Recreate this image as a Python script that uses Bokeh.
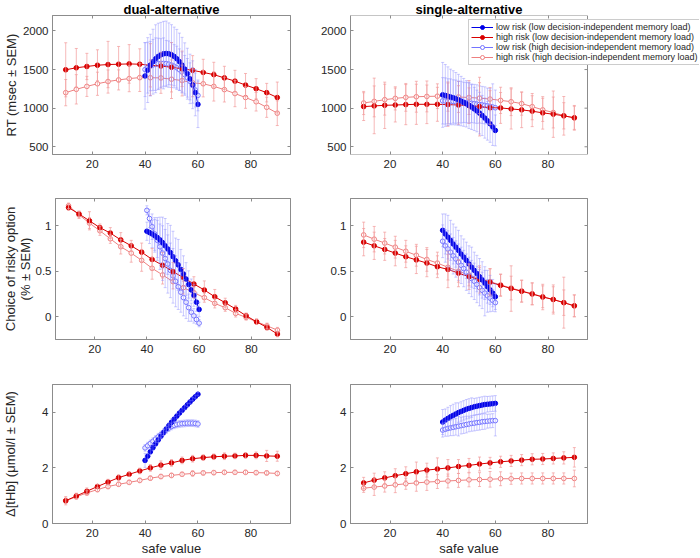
import math
from bokeh.plotting import figure
from bokeh.models import (ColumnDataSource, Whisker, TeeHead, Legend, LegendItem,
                          LinearAxis, FixedTicker, Range1d, Title)
from bokeh.layouts import column, row
from bokeh.embed import file_html
from bokeh.resources import INLINE

# ---------------- data ----------------
x_red = [10, 14, 18, 22, 26, 30, 34, 38, 42, 46, 50, 54, 58, 62, 66, 70, 74, 78, 82, 86, 90]
x_blue = [40, 41, 42, 43, 44, 45, 46, 47, 48, 49, 50, 51, 52, 53, 54, 55, 56, 57, 58, 59, 60]

series_labels = ["low risk (low decision-independent memory load)",
                 "high risk (low decision-independent memory load)",
                 "low risk (high decision-independent memory load)",
                 "high risk (high decision-independent memory load)"]
col_titles = ["dual-alternative", "single-alternative"]
row_labels = ["RT (msec \u00b1 SEM)", "Choice of risky option\n(% \u00b1 SEM)", "\u0394[tHb] (\u03bcmol/l \u00b1 SEM)"]
x_label = "safe value"
x_ticks = [20, 40, 60, 80]
rt_ticks = [500, 1000, 1500, 2000]
choice_ticks = [0, 0.5, 1]
thb_ticks = [0, 2, 4]

# RT, dual-alternative
rt_dual_bf = [1417, 1493, 1557, 1602, 1640, 1670, 1691, 1704, 1708, 1704, 1691, 1670, 1640, 1602, 1557, 1506, 1446, 1379, 1303, 1201, 1049]
rt_dual_bf_sem = [430, 420, 400, 420, 440, 430, 420, 420, 420, 400, 390, 380, 380, 370, 360, 340, 330, 320, 310, 300, 300]
rt_dual_rf = [1497, 1523, 1540, 1556, 1565, 1569, 1573, 1569, 1555, 1545, 1530, 1510, 1490, 1463, 1434, 1392, 1350, 1299, 1252, 1201, 1138]
rt_dual_rf_sem = [350, 250, 170, 200, 300, 230, 250, 200, 280, 180, 320, 230, 190, 170, 160, 150, 140, 150, 130, 120, 200]
rt_dual_bo = [1500, 1525, 1545, 1560, 1570, 1577, 1580, 1580, 1577, 1570, 1558, 1543, 1523, 1498, 1468, 1433, 1393, 1347, 1295, 1235, 1165]
rt_dual_bo_sem = [350, 330, 320, 330, 340, 330, 320, 330, 300, 300, 290, 280, 280, 270, 260, 250, 250, 240, 230, 220, 200]
rt_dual_ro = [1201, 1244, 1282, 1316, 1345, 1366, 1383, 1396, 1394, 1392, 1375, 1358, 1328, 1316, 1282, 1240, 1189, 1138, 1083, 1011, 935]
rt_dual_ro_sem = [170, 190, 130, 150, 150, 130, 170, 180, 230, 200, 250, 200, 180, 170, 190, 160, 170, 140, 120, 130, 160]

# RT, single-alternative
rt_single_bf = [1172, 1165, 1155, 1145, 1135, 1122, 1108, 1092, 1075, 1056, 1036, 1014, 990, 964, 936, 905, 872, 836, 798, 757, 712]
rt_single_bf_sem = [420, 400, 380, 360, 350, 340, 330, 320, 310, 300, 300, 290, 280, 270, 270, 260, 260, 250, 240, 240, 200]
rt_single_rf = [1020, 1029, 1037, 1041, 1046, 1050, 1050, 1050, 1046, 1041, 1033, 1020, 1007, 1003, 990, 978, 961, 939, 922, 901, 875]
rt_single_rf_sem = [180, 360, 300, 220, 260, 260, 250, 220, 280, 250, 230, 380, 220, 200, 260, 230, 200, 210, 300, 250, 160]
rt_single_bo = [1095, 1093, 1091, 1089, 1087, 1084, 1081, 1078, 1075, 1071, 1067, 1063, 1058, 1053, 1048, 1042, 1036, 1030, 1023, 1015, 1005]
rt_single_bo_sem = [300, 300, 290, 290, 280, 280, 270, 270, 260, 260, 260, 250, 250, 250, 240, 240, 240, 230, 230, 300, 230]
rt_single_ro = [1067, 1088, 1110, 1127, 1140, 1148, 1152, 1155, 1150, 1145, 1138, 1130, 1118, 1101, 1084, 1059, 1020, 978, 944, 901, 875]
rt_single_ro_sem = [150, 200, 200, 150, 180, 200, 200, 160, 190, 200, 220, 200, 150, 170, 180, 150, 170, 150, 200, 170, 150]

# Choice, dual-alternative
ch_dual_bf = [0.94, 0.925, 0.91, 0.89, 0.87, 0.845, 0.815, 0.78, 0.745, 0.705, 0.66, 0.615, 0.57, 0.52, 0.47, 0.415, 0.355, 0.295, 0.235, 0.16, 0.08]
ch_dual_bf_sem = [0.10, 0.12, 0.15, 0.18, 0.22, 0.25, 0.28, 0.30, 0.28, 0.30, 0.28, 0.25, 0.28, 0.22, 0.20, 0.18, 0.15, 0.12, 0.12, 0.10, 0.08]
ch_dual_rf = [1.20, 1.13, 1.055, 0.98, 0.92, 0.845, 0.78, 0.71, 0.63, 0.566, 0.496, 0.43, 0.36, 0.294, 0.22, 0.154, 0.085, 0.011, -0.055, -0.118, -0.19]
ch_dual_rf_sem = [0.03, 0.03, 0.10, 0.04, 0.06, 0.08, 0.06, 0.10, 0.12, 0.14, 0.10, 0.10, 0.08, 0.10, 0.08, 0.05, 0.04, 0.03, 0.03, 0.03, 0.03]
ch_dual_bo = [1.17, 1.08, 0.99, 0.91, 0.84, 0.77, 0.70, 0.64, 0.58, 0.51, 0.45, 0.39, 0.33, 0.27, 0.21, 0.16, 0.10, 0.05, 0.01, -0.03, -0.07]
ch_dual_bo_sem = [0.05, 0.10, 0.14, 0.18, 0.22, 0.25, 0.30, 0.32, 0.32, 0.30, 0.30, 0.28, 0.25, 0.22, 0.20, 0.18, 0.15, 0.10, 0.08, 0.05, 0.04]
ch_dual_ro = [1.22, 1.12, 1.03, 0.945, 0.857, 0.77, 0.70, 0.62, 0.533, 0.46, 0.386, 0.32, 0.265, 0.21, 0.147, 0.10, 0.037, -0.007, -0.055, -0.10, -0.147]
ch_dual_ro_sem = [0.03, 0.04, 0.06, 0.05, 0.05, 0.08, 0.10, 0.12, 0.12, 0.10, 0.08, 0.07, 0.06, 0.05, 0.05, 0.04, 0.04, 0.03, 0.03, 0.03, 0.03]

# Choice, single-alternative
ch_single_bf = [0.95, 0.91, 0.875, 0.84, 0.80, 0.765, 0.73, 0.69, 0.655, 0.62, 0.58, 0.545, 0.51, 0.475, 0.44, 0.405, 0.37, 0.33, 0.295, 0.26, 0.22]
ch_single_bf_sem = [0.18, 0.22, 0.24, 0.22, 0.22, 0.22, 0.22, 0.20, 0.20, 0.20, 0.20, 0.22, 0.20, 0.20, 0.20, 0.20, 0.18, 0.18, 0.16, 0.15, 0.14]
ch_single_rf = [0.82, 0.78, 0.74, 0.70, 0.66, 0.625, 0.59, 0.55, 0.52, 0.48, 0.44, 0.41, 0.38, 0.345, 0.31, 0.28, 0.25, 0.217, 0.19, 0.155, 0.12]
ch_single_rf_sem = [0.15, 0.15, 0.12, 0.14, 0.12, 0.15, 0.15, 0.12, 0.20, 0.15, 0.14, 0.15, 0.15, 0.12, 0.25, 0.12, 0.12, 0.14, 0.16, 0.28, 0.12]
ch_single_bo = [0.83, 0.78, 0.745, 0.71, 0.67, 0.635, 0.60, 0.565, 0.53, 0.49, 0.455, 0.42, 0.39, 0.355, 0.32, 0.29, 0.26, 0.23, 0.205, 0.18, 0.155]
ch_single_bo_sem = [0.18, 0.18, 0.20, 0.20, 0.20, 0.20, 0.20, 0.20, 0.20, 0.20, 0.20, 0.20, 0.20, 0.20, 0.20, 0.20, 0.25, 0.18, 0.15, 0.12, 0.10]
ch_single_ro = [0.90, 0.853, 0.81, 0.765, 0.72, 0.676, 0.63, 0.59, 0.544, 0.50, 0.46, 0.42, 0.386, 0.35, 0.316, 0.283, 0.254, 0.22, 0.19, 0.155, 0.12]
ch_single_ro_sem = [0.14, 0.14, 0.12, 0.12, 0.12, 0.12, 0.13, 0.12, 0.14, 0.12, 0.12, 0.12, 0.14, 0.12, 0.13, 0.12, 0.12, 0.12, 0.14, 0.14, 0.12]

# tHb, dual-alternative
thb_dual_bf = [2.27, 2.42, 2.58, 2.73, 2.87, 3.01, 3.14, 3.27, 3.40, 3.52, 3.64, 3.75, 3.86, 3.97, 4.07, 4.17, 4.27, 4.37, 4.47, 4.56, 4.65]
thb_dual_bf_sem = [0.25, 0.10, 0.10, 0.10, 0.10, 0.10, 0.10, 0.10, 0.10, 0.10, 0.12, 0.10, 0.10, 0.08, 0.08, 0.08, 0.06, 0.06, 0.06, 0.06, 0.06]
thb_dual_rf = [0.82, 0.99, 1.16, 1.33, 1.49, 1.65, 1.77, 1.89, 2.00, 2.10, 2.18, 2.27, 2.33, 2.37, 2.40, 2.42, 2.43, 2.45, 2.45, 2.43, 2.42]
thb_dual_rf_sem = [0.15, 0.10, 0.12, 0.08, 0.10, 0.10, 0.08, 0.10, 0.12, 0.15, 0.12, 0.12, 0.12, 0.10, 0.10, 0.12, 0.10, 0.10, 0.12, 0.20, 0.18]
thb_dual_bo = [2.72, 2.80, 2.88, 2.96, 3.04, 3.12, 3.20, 3.28, 3.36, 3.43, 3.49, 3.53, 3.56, 3.58, 3.59, 3.60, 3.61, 3.61, 3.61, 3.60, 3.58]
thb_dual_bo_sem = [0.12, 0.12, 0.12, 0.12, 0.12, 0.12, 0.12, 0.12, 0.12, 0.12, 0.12, 0.12, 0.12, 0.12, 0.12, 0.12, 0.12, 0.12, 0.12, 0.12, 0.12]
thb_dual_ro = [0.82, 0.96, 1.10, 1.22, 1.33, 1.41, 1.48, 1.55, 1.63, 1.69, 1.73, 1.77, 1.80, 1.82, 1.83, 1.84, 1.84, 1.84, 1.83, 1.82, 1.80]
thb_dual_ro_sem = [0.10, 0.08, 0.08, 0.08, 0.08, 0.08, 0.08, 0.08, 0.08, 0.08, 0.08, 0.08, 0.10, 0.08, 0.08, 0.08, 0.08, 0.08, 0.08, 0.08, 0.08]

# tHb, single-alternative
thb_single_bf = [3.65, 3.72, 3.78, 3.84, 3.89, 3.94, 3.99, 4.03, 4.07, 4.11, 4.14, 4.17, 4.20, 4.22, 4.24, 4.26, 4.28, 4.29, 4.30, 4.31, 4.32]
thb_single_bf_sem = [0.45, 0.40, 0.40, 0.40, 0.40, 0.40, 0.35, 0.35, 0.35, 0.35, 0.35, 0.35, 0.30, 0.30, 0.30, 0.30, 0.30, 0.28, 0.28, 0.28, 0.28]
thb_single_rf = [1.46, 1.56, 1.64, 1.72, 1.79, 1.86, 1.92, 1.96, 2.00, 2.05, 2.09, 2.14, 2.18, 2.22, 2.25, 2.28, 2.31, 2.32, 2.34, 2.36, 2.38]
thb_single_rf_sem = [0.20, 0.25, 0.22, 0.25, 0.25, 0.35, 0.25, 0.40, 0.30, 0.25, 0.25, 0.25, 0.20, 0.20, 0.20, 0.20, 0.20, 0.20, 0.20, 0.22, 0.35]
thb_single_bo = [3.36, 3.39, 3.42, 3.44, 3.46, 3.48, 3.50, 3.52, 3.54, 3.56, 3.58, 3.60, 3.61, 3.63, 3.64, 3.66, 3.67, 3.68, 3.69, 3.70, 3.70]
thb_single_bo_sem = [0.25, 0.25, 0.28, 0.28, 0.30, 0.30, 0.35, 0.30, 0.30, 0.30, 0.28, 0.28, 0.28, 0.28, 0.28, 0.28, 0.28, 0.25, 0.25, 0.25, 0.55]
thb_single_ro = [1.27, 1.31, 1.35, 1.39, 1.43, 1.46, 1.49, 1.51, 1.53, 1.55, 1.57, 1.58, 1.59, 1.61, 1.61, 1.62, 1.62, 1.62, 1.62, 1.62, 1.62]
thb_single_ro_sem = [0.15, 0.30, 0.22, 0.28, 0.20, 0.30, 0.30, 0.25, 0.25, 0.25, 0.25, 0.25, 0.28, 0.25, 0.20, 0.20, 0.20, 0.20, 0.20, 0.20, 0.30]

# ---------------- style ----------------
FONT = "Liberation Sans"
TXT = "#262626"
AXC = "#8c8c8c"
BLUE = "#0000e6"
BLUE_LIGHT = "#7474ff"
BLUE_ERR = "#8c8cff"
RED = "#d80000"
RED_LIGHT = "#ee8080"
RED_ERR = "#f29a9a"

X_RANGE = (5, 95)
COLS = [dict(width=300, left=52, right=10), dict(width=399, left=50, right=112)]
ROWS = [dict(height=176, top=13, bottom=22, yr=(400, 2200), ticks=rt_ticks, lab_standoff=1),
        dict(height=185, top=22, bottom=22, yr=(-0.25, 1.3), ticks=choice_ticks, lab_standoff=0),
        dict(height=197, top=23, bottom=34, yr=(0, 5), ticks=thb_ticks, lab_standoff=21)]


def style_axis(ax, ticks, show_labels=True, line=True):
    ax.ticker = FixedTicker(ticks=ticks)
    ax.axis_line_color = AXC if line else None
    ax.major_tick_line_color = AXC
    ax.major_tick_in = 3
    ax.major_tick_out = 0
    ax.minor_tick_line_color = None
    ax.major_label_text_font = FONT
    ax.major_label_text_color = TXT
    if not show_labels:
        ax.major_label_text_font_size = "0px"
        ax.major_label_text_color = None
        ax.major_label_standoff = 0
    else:
        ax.major_label_text_font_size = "11.5px"


def style_label(ax, text, standoff):
    ax.axis_label = text
    ax.axis_label_standoff = standoff
    ax.axis_label_text_font = FONT
    ax.axis_label_text_font_size = "13px"
    ax.axis_label_text_font_style = "normal"
    ax.axis_label_text_color = TXT
    ax.axis_label_text_line_height = 0.95


def make_panel(r, c, extended=False):
    R, C = ROWS[r], COLS[c]
    fw = C["width"] - C["left"] - C["right"]
    right_border = 0 if extended else C["right"]
    fw_ext = C["width"] - C["left"] - right_border
    x_end = X_RANGE[0] + (X_RANGE[1] - X_RANGE[0]) * fw_ext / fw
    p = figure(width=C["width"], height=R["height"], output_backend="svg", toolbar_location=None,
               x_range=Range1d(X_RANGE[0], x_end), y_range=Range1d(*R["yr"]),
               min_border_left=C["left"], min_border_right=right_border,
               min_border_top=R["top"], min_border_bottom=R["bottom"])
    p.xgrid.visible = False
    p.ygrid.visible = False
    p.background_fill_color = "white"
    p.border_fill_color = "white"
    xb = p.xaxis[0]
    yl = p.yaxis[0]
    style_axis(xb, x_ticks, line=not extended)
    xb.major_label_standoff = 5
    style_axis(yl, R["ticks"])
    yl.major_label_standoff = 4
    top = LinearAxis()
    style_axis(top, x_ticks, show_labels=False, line=not extended)
    p.add_layout(top, "above")
    if extended:
        p.outline_line_color = None
        # axes box drawn over the x-range of the data only
        p.quad(left=[X_RANGE[0]], right=[X_RANGE[1]], bottom=[R["yr"][0]], top=[R["yr"][1]],
               fill_color=None, line_color=AXC, line_width=1)
        dx = 1.5 * (X_RANGE[1] - X_RANGE[0]) / fw
        p.scatter(x=[X_RANGE[1] - dx] * len(R["ticks"]), y=R["ticks"], marker="dash", size=3,
                  line_color=AXC, line_width=1)
    else:
        p.outline_line_color = AXC
        rgt = LinearAxis()
        style_axis(rgt, R["ticks"], show_labels=False)
        p.add_layout(rgt, "right")
    return p, fw, xb, yl


def draw_series(p, x, y, sem, color, line_color, err_color, filled, err_alpha):
    src = ColumnDataSource(dict(x=x, y=y,
                                lo=[a - b for a, b in zip(y, sem)],
                                hi=[a + b for a, b in zip(y, sem)]))
    w = Whisker(base="x", lower="lo", upper="hi", source=src, level="glyph",
                line_color=err_color, line_width=1, line_alpha=err_alpha,
                upper_head=TeeHead(size=3, line_color=err_color, line_alpha=err_alpha, line_width=1),
                lower_head=TeeHead(size=3, line_color=err_color, line_alpha=err_alpha, line_width=1))
    p.add_layout(w)
    ln = p.line("x", "y", source=src, line_color=line_color, line_width=1)
    sc = p.scatter("x", "y", source=src, marker="circle", size=4.6, line_color=color,
                   fill_color=color if filled else "white", line_width=1)
    return [ln, sc]


panel_data = [
    [(rt_dual_bf, rt_dual_bf_sem, rt_dual_rf, rt_dual_rf_sem, rt_dual_bo, rt_dual_bo_sem, rt_dual_ro, rt_dual_ro_sem),
     (rt_single_bf, rt_single_bf_sem, rt_single_rf, rt_single_rf_sem, rt_single_bo, rt_single_bo_sem, rt_single_ro, rt_single_ro_sem)],
    [(ch_dual_bf, ch_dual_bf_sem, ch_dual_rf, ch_dual_rf_sem, ch_dual_bo, ch_dual_bo_sem, ch_dual_ro, ch_dual_ro_sem),
     (ch_single_bf, ch_single_bf_sem, ch_single_rf, ch_single_rf_sem, ch_single_bo, ch_single_bo_sem, ch_single_ro, ch_single_ro_sem)],
    [(thb_dual_bf, thb_dual_bf_sem, thb_dual_rf, thb_dual_rf_sem, thb_dual_bo, thb_dual_bo_sem, thb_dual_ro, thb_dual_ro_sem),
     (thb_single_bf, thb_single_bf_sem, thb_single_rf, thb_single_rf_sem, thb_single_bo, thb_single_bo_sem, thb_single_ro, thb_single_ro_sem)],
]

rows = []
for r in range(3):
    figs = []
    for c in range(2):
        extended = (r == 0 and c == 1)
        p, fw, xb, yl = make_panel(r, c, extended)
        fh = ROWS[r]["height"] - ROWS[r]["top"] - ROWS[r]["bottom"]
        bf, bfs, rf, rfs, bo, bos, ro, ros = panel_data[r][c]
        r_ro = draw_series(p, x_red, ro, ros, RED_LIGHT, RED_LIGHT, RED_ERR, False, 0.7)
        r_bo = draw_series(p, x_blue, bo, bos, BLUE_LIGHT, BLUE_LIGHT, BLUE_ERR, False, 0.45)
        r_rf = draw_series(p, x_red, rf, rfs, RED, RED, RED_ERR, True, 0.7)
        r_bf = draw_series(p, x_blue, bf, bfs, BLUE, BLUE, BLUE_ERR, True, 0.45)
        if r == 0:
            if extended:
                t = Title(text=col_titles[c], align="left", offset=fw / 2 - 53.5)
            else:
                t = Title(text=col_titles[c], align="center")
            t.text_font = FONT
            t.text_font_size = "13px"
            t.text_font_style = "bold"
            t.text_color = "#000000"
            t.standoff = -2
            t.text_line_height = 1.0
            p.title = t
        if c == 0:
            style_label(yl, row_labels[r], ROWS[r]["lab_standoff"])
        if r == 2:
            style_label(xb, x_label, 1)
        if extended:
            items = [LegendItem(label=series_labels[i], renderers=rs)
                     for i, rs in enumerate([r_bf, r_rf, r_bo, r_ro])]
            leg = Legend(items=items, location=(118, fh - 52), margin=0, padding=2,
                         spacing=0, glyph_width=22, glyph_height=10, label_height=10,
                         label_standoff=3, label_text_font=FONT, label_text_font_size="9px",
                         label_text_color=TXT, border_line_color="#9a9a9a",
                         background_fill_color="white", background_fill_alpha=1)
            p.add_layout(leg, "center")
        figs.append(p)
    rows.append(row(*figs, spacing=0))

layout = column(*rows, spacing=0)
open("out.html", "w").write(file_html(layout, INLINE))
